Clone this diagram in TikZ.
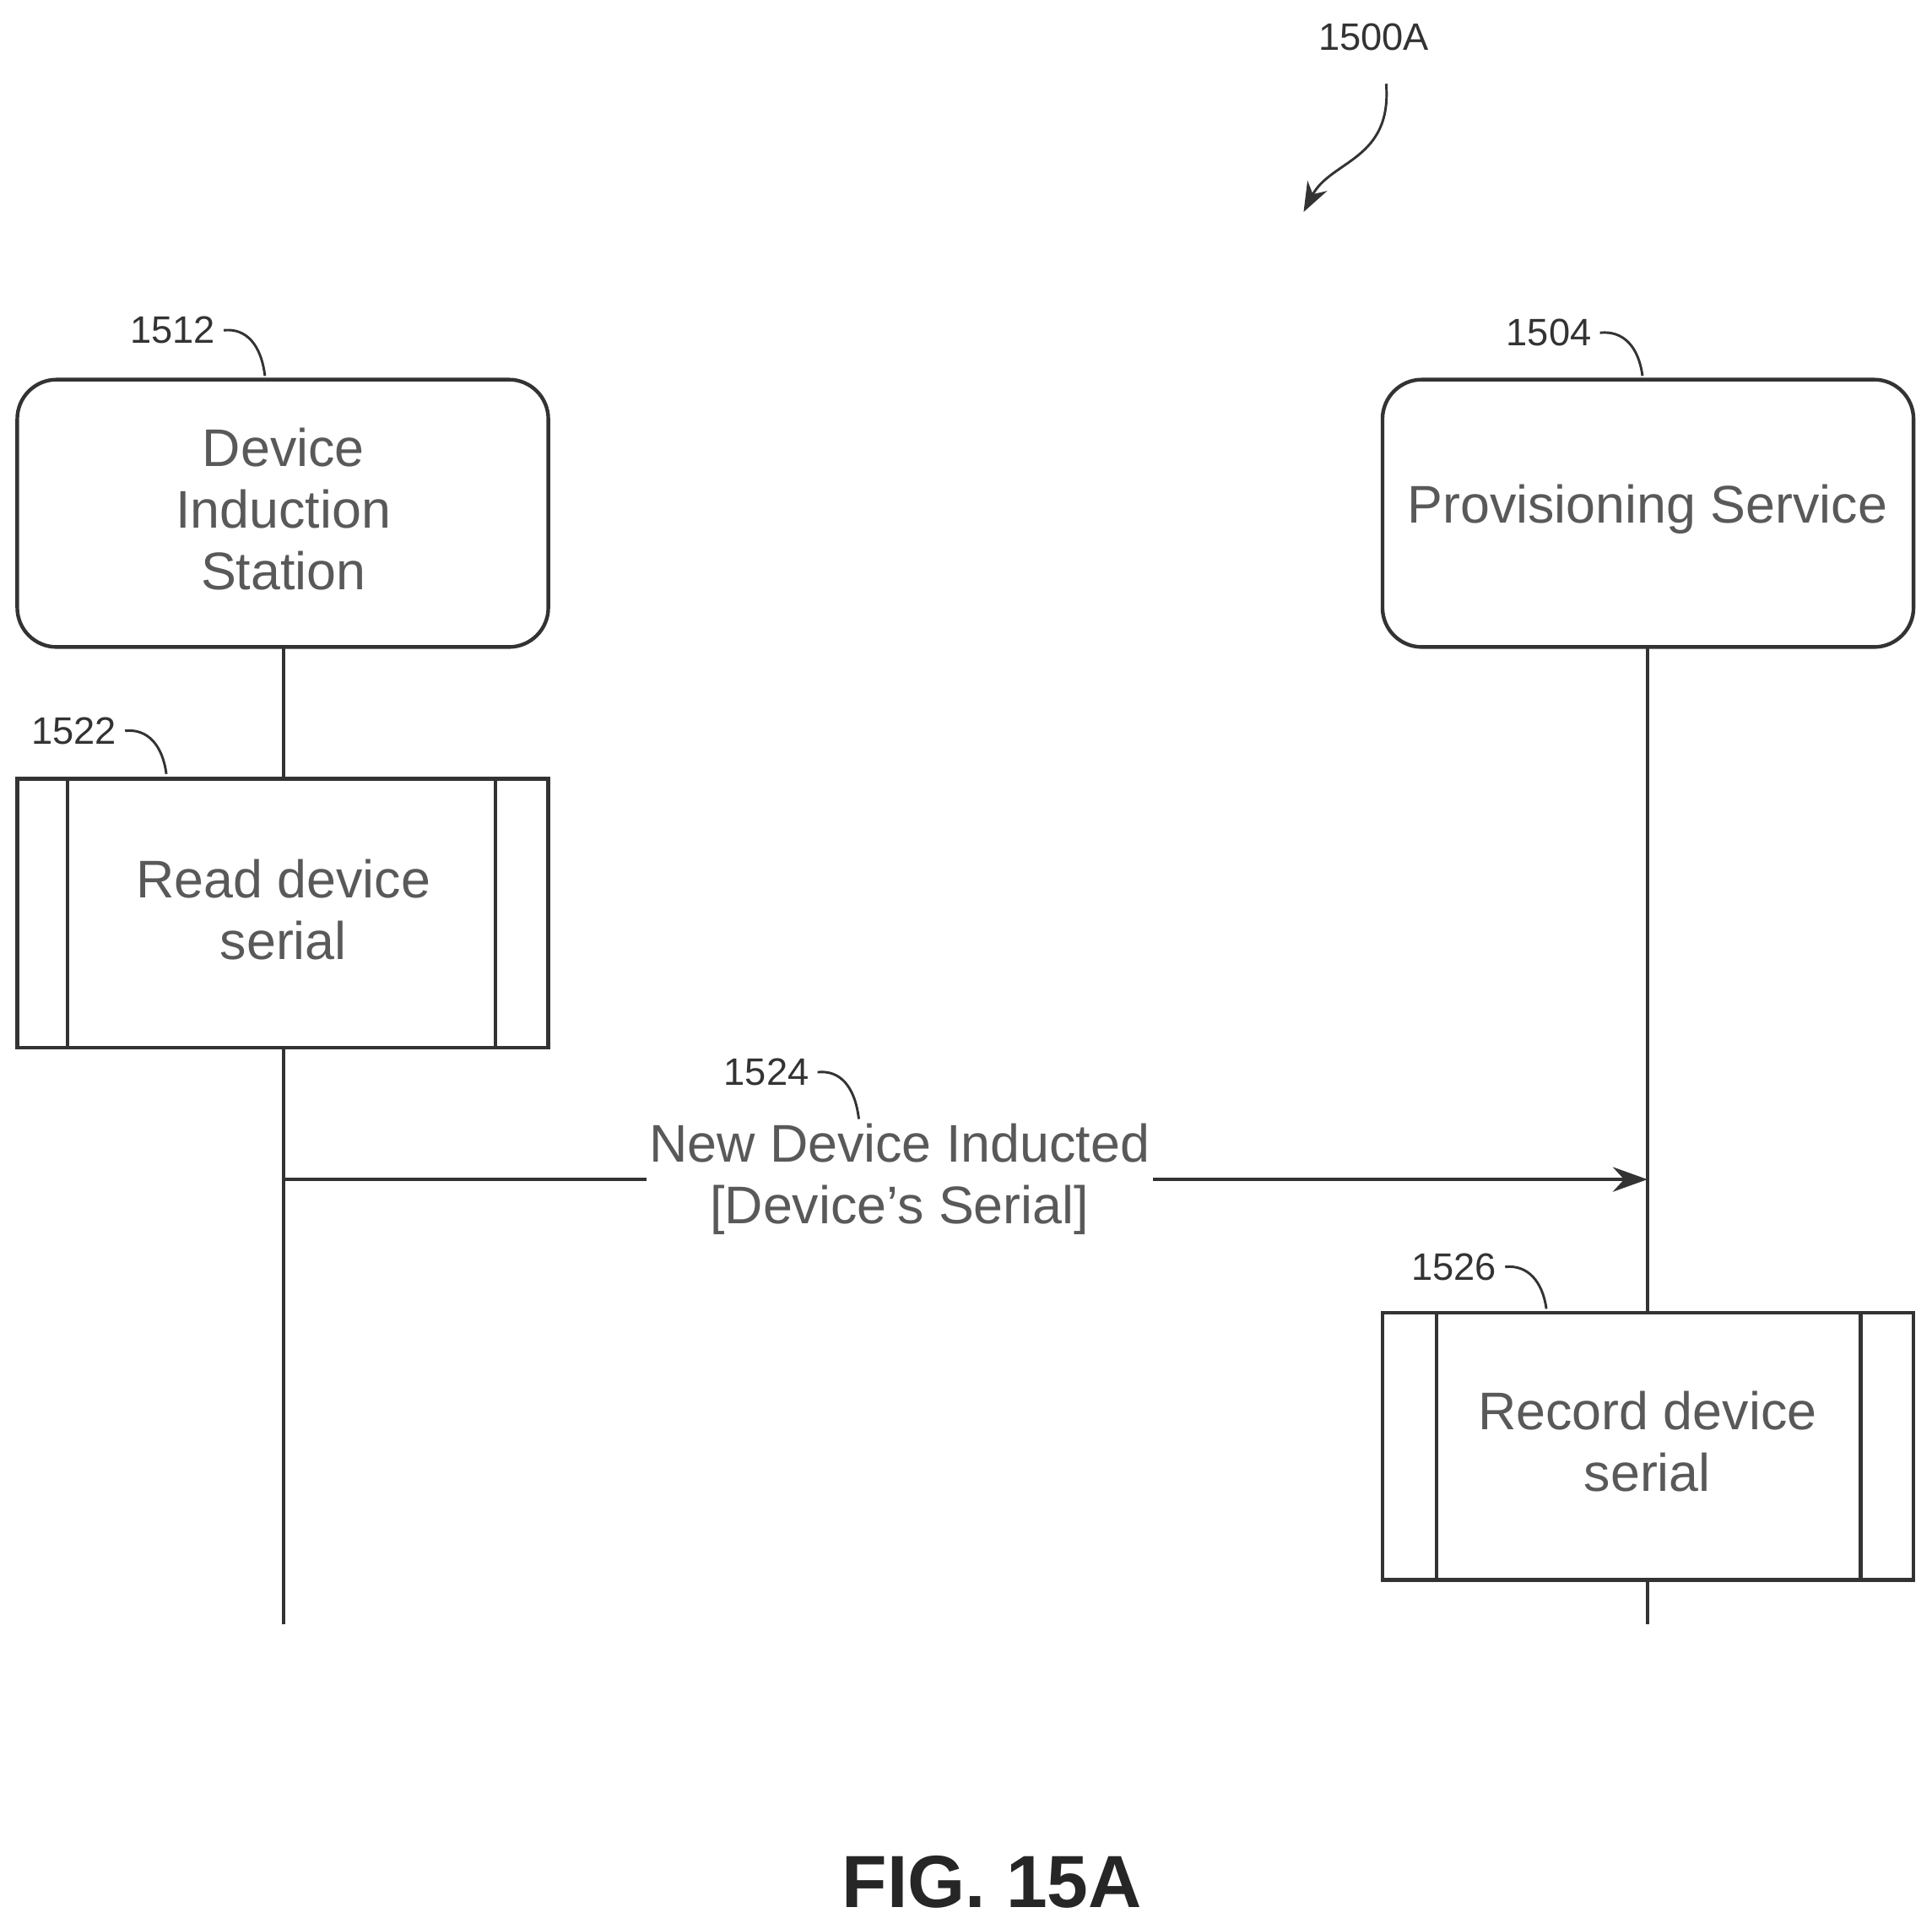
\documentclass[tikz,border=0pt]{standalone}
\usepackage{fontspec}
\setmainfont{Liberation Sans}
\usetikzlibrary{arrows.meta}
\begin{document}
\begin{tikzpicture}[x=0.5pt,y=-0.5pt,
  box/.style={draw=black!80,line width=1.5pt},
  txt/.style={font=\fontsize{21.5}{25}\selectfont,text=black!65,align=center},
  lab/.style={font=\fontsize{15.5}{18}\selectfont,text=black!80},
  lead/.style={draw=black!80,line width=1pt},
  life/.style={draw=black!80,line width=1.5pt}]
\useasboundingbox (0,0) rectangle (1568,1565);
% actors
\draw[box,rounded corners=16pt] (14,308) rectangle (445,525);
\node[txt] (dis) at (230,413) {Device\\Induction\\Station};
\draw[box,rounded corners=16pt] (1122,308) rectangle (1553,525);
\node[txt] (ps) at (1337,413) {Provisioning Service};
% activities
\draw[box] (14,632) rectangle (445,850);
\draw[box] (55,632) -- (55,850) (402,632) -- (402,850);
\node[txt] (rd) at (230,738) {Read device\\serial};
\draw[box] (1122,1065) rectangle (1553,1282);
\draw[box] (1166,1065) -- (1166,1282) (1510,1065) -- (1510,1282);
\node[txt] (rec) at (1337,1170) {Record device\\serial};
% lifelines
\coordinate (l1) at (230,525); \coordinate (l2) at (230,632);
\coordinate (l3) at (230,850); \coordinate (l4) at (230,1318);
\coordinate (r1) at (1337,525); \coordinate (r2) at (1337,1065);
\coordinate (r3) at (1337,1282); \coordinate (r4) at (1337,1318);
\draw[life] (l1) -- (l2) (l3) -- (l4) (r1) -- (r2) (r3) -- (r4);
% message
\node[txt,inner sep=1pt] (msg) at (730,957) {New Device Inducted\\{}[Device's Serial]};
\coordinate (ms) at (230,957); \coordinate (me) at (1337,957);
\draw[life] (ms) -- (msg.west);
\draw[life,-{Stealth[length=14pt,width=10pt]}] (msg.east) -- (me);
% labels
\node[lab] (n1500) at (1115,30) {1500A};
\coordinate (a1) at (1125,68); \coordinate (a2) at (1058,172);
\draw[lead,-{Stealth[length=12pt,width=9pt]}] (a1) .. controls (1130,130) and (1080,130) .. (a2);
\node[lab] (n1512) at (140,268) {1512};
\coordinate (c1512) at (215,305);
\draw[lead] (n1512.east) .. controls (200,266) and (212,280) .. (c1512);
\node[lab] (n1504) at (1257,270) {1504};
\coordinate (c1504) at (1333,305);
\draw[lead] (n1504.east) .. controls (1318,268) and (1330,282) .. (c1504);
\node[lab] (n1522) at (60,593) {1522};
\coordinate (c1522) at (135,628);
\draw[lead] (n1522.east) .. controls (120,591) and (132,605) .. (c1522);
\node[lab] (n1524) at (622,870) {1524};
\coordinate (c1524) at (697,908);
\draw[lead] (n1524.east) .. controls (682,868) and (694,882) .. (c1524);
\node[lab] (n1526) at (1180,1028) {1526};
\coordinate (c1526) at (1255,1062);
\draw[lead] (n1526.east) .. controls (1240,1026) and (1252,1040) .. (c1526);
\node[font=\fontsize{30}{36}\selectfont\bfseries,text=black!85] (fig) at (805,1527) {FIG. 15A};
\end{tikzpicture}
\end{document}
